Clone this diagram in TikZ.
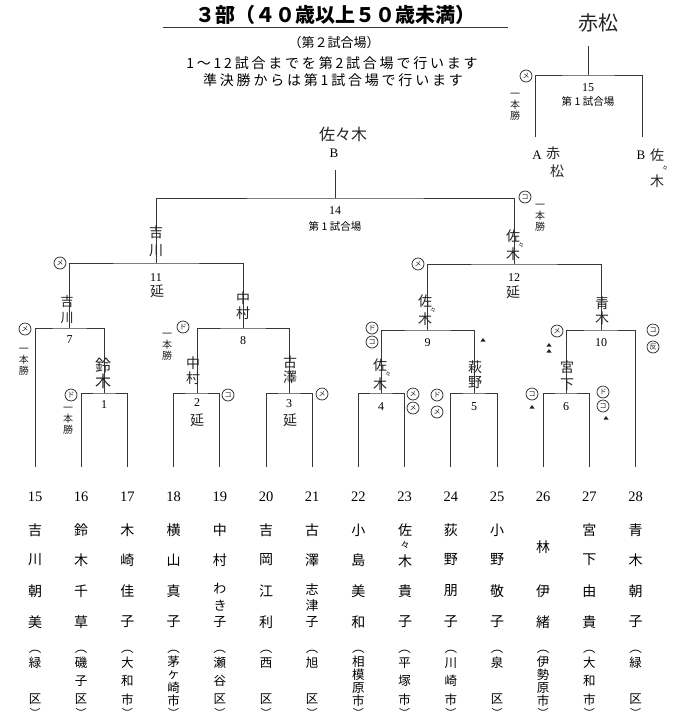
\documentclass[tikz,border=0pt]{standalone}
\usepackage{fontspec}
\setmainfont{Liberation Serif}
\newfontfamily\jp{Noto Sans CJK JP}
\newfontfamily\jpsp{Noto Sans CJK JP}[LetterSpace=20]
\usetikzlibrary{calc}
\definecolor{lineGray}{RGB}{55,55,55}
\definecolor{inkGray}{RGB}{35,35,35}
\tikzset{
  bracket/.style={lineGray, line width=0.9pt},
  jname/.style={font=\jp\fontsize{14}{14}\selectfont, inner sep=0pt},
  jcity/.style={font=\jp\fontsize{12.5}{12.5}\selectfont, inner sep=0pt},
  matchno/.style={font=\fontsize{12}{12}\selectfont, inner sep=0pt},
  hand/.style={font=\jp\fontsize{14}{15}\selectfont, inner sep=0pt, align=center, inkGray},
  handsmall/.style={font=\jp\fontsize{10}{11}\selectfont, inner sep=0pt, align=center, inkGray},
  scoremark/.style={circle, draw=inkGray, line width=0.7pt, inner sep=0pt, minimum size=12pt,
    font=\jp\fontsize{7}{7}\selectfont, inkGray},
}
% vertical handwritten 佐々木: name, x, y of 佐, y of 木
\newcommand{\sasakiV}[4]{%
  \node[hand] (#1a) at (#2,#3) {佐};
  \node[handsmall, font=\jp\fontsize{6}{6}\selectfont] (#1b) at ($(#2,#3)!.5!(#2,#4)+(8,0)$) {々};
  \node[hand] (#1c) at (#2,#4) {木};}

\begin{document}
\begin{tikzpicture}[x=1pt,y=-1pt]
  \useasboundingbox (0,0) rectangle (687,718);
  % heading
  \node[font=\jp\bfseries\fontsize{20}{20}\selectfont] (title) at (335,15) {３部（４０歳以上５０歳未満）};
  \draw[lineGray, line width=0.8pt] (163,27) -- (508,27);
  \node[font=\jp\fontsize{13}{13}\selectfont] (venue) at (334,43) {（第２試合場）};
  \node[font=\jpsp\fontsize{14}{14}\selectfont] (note1) at (332,63) {1～12試合までを第2試合場で行います};
  \node[font=\jpsp\fontsize{14}{14}\selectfont] (note2) at (333,80) {準決勝からは第1試合場で行います};

  % players: number, vertical name, vertical city
  \foreach \n in {15,...,28}{
    \pgfmathsetmacro\x{35+(\n-15)*46.2}
    \coordinate (p\n) at (\x,467);
    \node[font=\fontsize{14.5}{14.5}\selectfont] (no\n) at (\x,497) {\n};
    \node[jcity] (lo\n-o) at (\x,652) {︵};
    \node[jcity, font=\jp\fontsize{11}{11}\selectfont] (lo\n-c) at (\x,712.5) {︶};
  }
  \foreach \n/\a/\b/\c/\d in {15/吉/川/朝/美, 16/鈴/木/千/草, 17/木/崎/佳/子, 18/横/山/真/子,
      20/吉/岡/江/利, 22/小/島/美/和, 24/荻/野/朋/子, 25/小/野/敬/子, 27/宮/下/由/貴, 28/青/木/朝/子}{
    \pgfmathsetmacro\x{35+(\n-15)*46.2}
    \node[jname] (nm\n-a) at (\x,530) {\a};
    \node[jname] (nm\n-b) at (\x,560) {\b};
    \node[jname] (nm\n-c) at (\x,591) {\c};
    \node[jname] (nm\n-d) at (\x,622) {\d};
  }
  \foreach \n/\a/\b/\c in {19/中/村/わ, 21/古/澤/志}{
    \pgfmathsetmacro\x{35+(\n-15)*46.2}
    \node[jname] (nm\n-a) at (\x,530) {\a};
    \node[jname] (nm\n-b) at (\x,560) {\b};
    \node[jname, font=\jp\fontsize{13}{13}\selectfont] (nm\n-c) at (\x,589) {\c};
    \node[jname, font=\jp\fontsize{13}{13}\selectfont] (nm\n-e) at (\x,622) {子};
  }
  \node[jname, font=\jp\fontsize{13}{13}\selectfont] (nm19-d) at (220,605.5) {き};
  \node[jname, font=\jp\fontsize{13}{13}\selectfont] (nm21-d) at (312,605.5) {津};
  \node[jname] (nm23-a) at (405,530) {佐};
  \node[jname, font=\jp\fontsize{9}{9}\selectfont] (nm23-b) at (405,545.5) {々};
  \node[jname] (nm23-c) at (405,561) {木};
  \node[jname] (nm23-d) at (405,591) {貴};
  \node[jname] (nm23-e) at (405,622) {子};
  \node[jname] (nm26-a) at (543,547) {林};
  \node[jname] (nm26-b) at (543,591) {伊};
  \node[jname] (nm26-c) at (543,622) {緒};
  \foreach \n/\a/\b in {15/緑/区, 20/西/区, 21/旭/区, 25/泉/区, 28/緑/区}{
    \pgfmathsetmacro\x{35+(\n-15)*46.2}
    \node[jcity] (lo\n-a) at (\x,663) {\a};
    \node[jcity] (lo\n-b) at (\x,699.5) {\b};
  }
  \foreach \n/\a/\b/\c in {16/磯/子/区, 17/大/和/市, 19/瀬/谷/区, 23/平/塚/市, 24/川/崎/市, 27/大/和/市}{
    \pgfmathsetmacro\x{35+(\n-15)*46.2}
    \node[jcity] (lo\n-a) at (\x,663) {\a};
    \node[jcity] (lo\n-b) at (\x,681) {\b};
    \node[jcity] (lo\n-c) at (\x,699.5) {\c};
  }
  \foreach \n/\a/\b/\c/\d in {18/茅/ヶ/崎/市, 22/相/模/原/市, 26/伊/勢/原/市}{
    \pgfmathsetmacro\x{35+(\n-15)*46.2}
    \node[jcity] (lo\n-a) at (\x,662) {\a};
    \node[jcity] (lo\n-b) at (\x,675) {\b};
    \node[jcity] (lo\n-c) at (\x,688) {\c};
    \node[jcity] (lo\n-d) at (\x,700.5) {\d};
  }

  % bracket joints
  \coordinate (m1) at (104,393);   \coordinate (m2) at (197,393);
  \coordinate (m3) at (289,393);   \coordinate (m4) at (381,393);
  \coordinate (m5) at (474,393);   \coordinate (m6) at (566,393);
  \coordinate (m7) at (69.5,328);  \coordinate (m8) at (243,328);
  \coordinate (m9) at (427.5,330); \coordinate (m10) at (601,330);
  \coordinate (m11) at (156,263);  \coordinate (m12) at (514,264);
  \coordinate (m14) at (335,198);  \coordinate (top14) at (335,170);
  \coordinate (m15) at (588,75);   \coordinate (top15) at (588,46);
  \coordinate (a15) at (535,137);  \coordinate (b15) at (642,137);
  \draw[bracket] (p16) |- (m1) -| (p17);
  \draw[bracket] (p18) |- (m2) -| (p19);
  \draw[bracket] (p20) |- (m3) -| (p21);
  \draw[bracket] (p22) |- (m4) -| (p23);
  \draw[bracket] (p24) |- (m5) -| (p25);
  \draw[bracket] (p26) |- (m6) -| (p27);
  \draw[bracket] (p15) |- (m7) -| (m1);
  \draw[bracket] (m2) |- (m8) -| (m3);
  \draw[bracket] (m4) |- (m9) -| (m5);
  \draw[bracket] (m6) |- (m10) -| (p28);
  \draw[bracket] (m7) |- (m11) -| (m8);
  \draw[bracket] (m9) |- (m12) -| (m10);
  \draw[bracket] (m11) |- (m14) -| (m12);
  \draw[bracket] (m14) -- (top14);
  \draw[bracket] (a15) |- (m15) -| (b15);
  \draw[bracket] (m15) -- (top15);

  % match numbers
  \foreach \m/\dy in {1/12, 2/10, 3/11, 4/14, 5/14, 6/14, 7/12, 8/13, 9/13, 10/13, 11/15, 12/14, 14/13, 15/13}{
    \node[matchno] (no-m\m) at ($(m\m)+(0,\dy)$) {\m};
  }
  \node[font=\jp\fontsize{10.5}{10.5}\selectfont] (site14) at (335,227) {第 1 試合場};
  \node[font=\jp\fontsize{10.5}{10.5}\selectfont] (site15) at (588,102) {第 1 試合場};

  % final and semi-final results
  \node[hand, font=\jp\fontsize{20}{20}\selectfont] (w15) at (598,23) {赤松};
  \node[font=\fontsize{13}{13}\selectfont] (fa) at (537,155) {A};
  \node[hand] (fa1) at (553,153) {赤};
  \node[hand] (fa2) at (557,171) {松};
  \node[font=\fontsize{13}{13}\selectfont] (fb) at (641,155) {B};
  \sasakiV{fb}{657}{155}{181}
  \node[hand, font=\jp\fontsize{16}{16}\selectfont] (w14) at (343,134) {佐々木};
  \node[font=\fontsize{13}{13}\selectfont] (w14b) at (334,153) {B};

  % handwritten winners
  \node[hand, font=\jp\fontsize{14}{18}\selectfont] (w11) at (156,241) {吉\\川};
  \node[hand, font=\jp\fontsize{13}{16}\selectfont] (w7) at (67,310) {吉\\川};
  \node[hand, font=\jp\fontsize{16}{16}\selectfont] (w1) at (103,373) {鈴\\木};
  \node[hand] (w8) at (243,306) {中\\村};
  \node[hand] (w2) at (193,371) {中\\村};
  \node[hand] (w3) at (290,370) {古\\澤};
  \sasakiV{w12}{513}{236}{254}
  \sasakiV{w9}{425}{301}{319}
  \node[hand] (w10) at (602,311) {青\\木};
  \sasakiV{w4}{380}{365}{384}
  \node[hand] (w5) at (475,375) {萩\\野};
  \node[hand, font=\jp\fontsize{14}{17}\selectfont] (w6) at (567,376) {宮\\下};
  \foreach \x/\y [count=\i] in {157/291, 513/292, 197/420, 290/420}{
    \node[hand] (ext\i) at (\x,\y) {延};
  }
  \foreach \x/\y [count=\i] in {515/107, 540/218, 24/362, 68/421, 167/347}{
    \node[handsmall] (ip\i) at (\x,\y) {一\\本\\勝};
  }

  % scoring marks
  \foreach \x/\y/\t [count=\i] in {526/76/メ, 525/197/コ, 60/263/メ, 25/329/メ, 71/395/ド,
      183/327/ド, 228/395/コ, 322/394/メ, 418/264/メ, 372/328/ド, 372/342/コ, 557/331/メ,
      653/330/コ, 653/347/反, 413/394/メ, 413/408/メ, 437/395/ド, 437/412/メ, 532/394/コ,
      603/392/ド, 603/406/コ}{
    \node[scoremark] (k\i) at (\x,\y) {\t};
  }
  \foreach \x/\y in {483/340, 549/345, 549/351, 532/407, 606/418}{
    \fill[inkGray] (\x,\y) ++(-2.5,1.5) -- ++(5,0) -- ++(-2.5,-3.5) -- cycle;
  }
\end{tikzpicture}
\end{document}
